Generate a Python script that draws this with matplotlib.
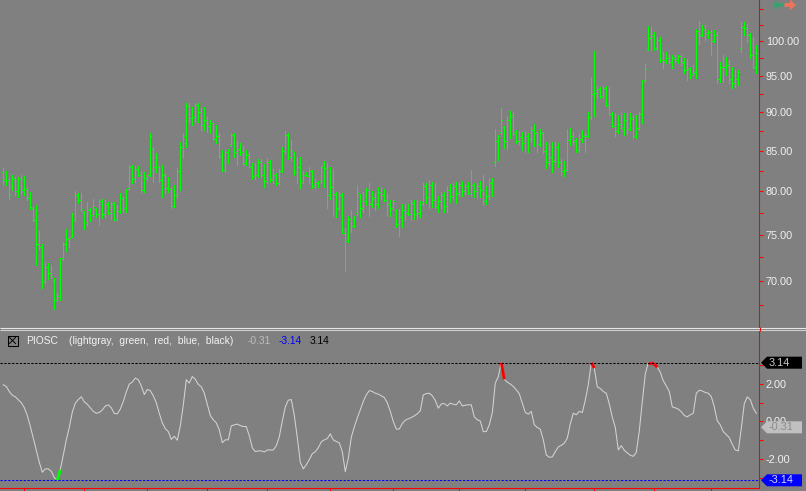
import matplotlib
matplotlib.use("Agg")
import matplotlib.pyplot as plt
from matplotlib.collections import LineCollection
from matplotlib.patches import Polygon, Rectangle
from matplotlib.ticker import FixedLocator, FormatStrFormatter, NullFormatter

plt.rcParams['font.family'] = ['Liberation Sans', 'DejaVu Sans']
plt.rcParams['axes.unicode_minus'] = False

W, H = 806, 491
BG = '#808080'
GREEN = '#00ff00'
FS = 7.8
FS_HEAD = 7.4

# daily OHLC bars
high = [
    82.8, 82.4, 81.6, 82.0, 81.7, 81.7, 82.0, 81.8, 80.5, 79.9,
    78.2, 78.4, 75.4, 74.0, 71.9, 71.9, 71.7, 70.3, 68.8, 72.4,
    74.2, 75.6, 74.7, 77.5, 80.0, 79.8, 79.8, 77.7, 78.7, 78.0,
    79.1, 78.0, 79.1, 79.1, 79.0, 78.7, 78.7, 78.7, 78.4, 79.8,
    79.3, 80.3, 83.2, 83.2, 83.1, 83.1, 82.3, 82.3, 82.0, 87.2,
    85.4, 84.7, 83.1, 83.2, 82.2, 81.7, 80.5, 80.8, 82.8, 86.1,
    87.2, 91.2, 91.2, 90.7, 91.2, 91.2, 90.6, 90.7, 89.3, 89.0,
    88.6, 88.3, 87.2, 85.1, 85.1, 85.2, 87.2, 87.2, 86.2, 86.0,
    85.6, 85.1, 84.8, 83.4, 83.4, 83.9, 83.9, 83.3, 84.1, 83.8,
    82.7, 82.2, 82.7, 85.4, 87.5, 87.2, 86.3, 84.8, 84.2, 84.2,
    82.4, 82.3, 82.9, 82.6, 81.5, 81.2, 83.1, 83.7, 83.4, 82.9,
    82.7, 79.9, 79.9, 79.8, 75.7, 77.1, 77.8, 77.1, 80.8, 79.7,
    79.9, 80.4, 81.0, 80.0, 79.8, 80.5, 80.4, 80.3, 79.8, 79.0,
    79.0, 77.9, 77.9, 78.5, 78.5, 78.5, 79.0, 79.0, 79.0, 78.9,
    81.0, 81.0, 81.4, 81.1, 81.0, 79.4, 79.9, 79.9, 80.6, 80.9,
    81.0, 81.1, 81.1, 81.2, 80.9, 81.1, 82.6, 81.0, 81.0, 81.2,
    82.0, 80.6, 81.6, 81.6, 87.8, 87.0, 90.6, 88.2, 89.5, 90.1,
    90.0, 87.6, 87.5, 87.4, 87.5, 87.2, 88.0, 88.4, 87.4, 87.8,
    87.4, 86.1, 86.0, 86.1, 86.1, 86.0, 83.9, 83.7, 87.8, 87.9,
    87.4, 86.6, 87.1, 87.6, 87.2, 90.0, 94.8, 98.6, 93.4, 93.4,
    93.6, 93.6, 93.4, 90.0, 89.9, 89.6, 89.9, 89.9, 89.9, 89.9,
    89.6, 89.6, 90.0, 94.4, 96.7, 102.3, 102.2, 101.4, 100.6, 100.6,
    98.4, 98.4, 98.0, 98.0, 98.0, 98.0, 98.0, 97.5, 97.4, 96.2,
    96.5, 101.9, 103.1, 102.5, 102.5, 101.7, 101.7, 101.7, 101.4, 97.0,
    98.0, 97.7, 97.3, 96.2, 95.8, 95.8, 102.9, 102.9, 102.6, 101.2,
    100.6, 99.4,
]
low = [
    80.8, 80.8, 79.1, 80.2, 79.6, 79.3, 79.7, 79.6, 79.0, 77.9,
    76.5, 71.7, 73.4, 69.3, 69.8, 70.2, 70.3, 67.1, 67.9, 68.1,
    72.2, 73.2, 73.6, 74.7, 76.5, 78.6, 77.7, 75.6, 76.1, 76.5,
    77.1, 77.0, 76.1, 76.9, 77.0, 77.3, 76.8, 76.7, 76.5, 77.5,
    77.6, 77.6, 80.2, 81.0, 81.1, 81.8, 79.9, 79.9, 81.4, 81.8,
    81.1, 82.3, 81.1, 79.3, 79.8, 79.9, 78.0, 78.2, 79.2, 80.2,
    84.1, 85.4, 88.7, 88.3, 88.7, 88.7, 87.6, 87.6, 87.4, 87.2,
    86.6, 86.0, 84.1, 82.4, 82.3, 83.4, 85.6, 84.2, 83.2, 84.4,
    83.2, 83.2, 82.9, 81.5, 81.5, 81.7, 81.7, 80.5, 81.0, 81.1,
    81.0, 80.8, 80.8, 82.3, 84.7, 83.9, 83.8, 82.0, 81.0, 80.4,
    81.0, 81.8, 81.0, 80.4, 80.4, 80.5, 81.0, 80.5, 78.0, 79.1,
    77.1, 77.0, 77.8, 75.2, 71.1, 74.2, 75.3, 75.9, 77.2, 77.0,
    77.6, 78.4, 77.1, 78.2, 77.8, 78.0, 79.1, 78.9, 77.1, 77.1,
    77.9, 75.9, 74.8, 75.9, 76.7, 77.2, 76.7, 76.8, 76.9, 77.0,
    78.4, 78.6, 78.0, 78.2, 78.0, 77.6, 78.0, 77.6, 77.6, 78.7,
    79.1, 78.6, 79.6, 79.4, 79.7, 79.7, 79.4, 79.3, 79.2, 79.3,
    78.4, 78.5, 79.1, 79.4, 83.1, 83.8, 87.1, 85.3, 85.2, 86.6,
    87.0, 86.0, 85.8, 85.1, 84.8, 84.8, 86.1, 85.6, 84.8, 85.6,
    84.7, 82.8, 83.2, 82.3, 83.6, 82.9, 82.0, 81.8, 82.4, 85.7,
    85.8, 84.8, 84.8, 86.1, 84.8, 86.7, 89.1, 89.5, 91.9, 91.9,
    91.9, 90.8, 89.6, 88.0, 86.9, 87.2, 87.9, 87.0, 87.1, 87.6,
    86.6, 86.6, 87.6, 88.6, 94.1, 98.7, 98.7, 98.7, 98.7, 97.0,
    96.1, 96.8, 96.8, 96.1, 97.0, 96.8, 96.5, 95.4, 94.4, 94.7,
    95.1, 94.7, 99.6, 100.8, 100.2, 100.5, 98.0, 99.9, 94.0, 94.1,
    94.1, 95.1, 94.0, 93.3, 93.4, 93.7, 98.4, 100.9, 99.9, 97.5,
    96.1, 95.4,
]
opn = [
    82.3, 81.5, 81.4, 80.5, 81.5, 80.0, 81.5, 80.2, 80.3, 79.2,
    78.0, 76.7, 74.0, 73.6, 70.0, 71.5, 70.8, 70.1, 68.0, 68.4,
    72.4, 74.0, 74.5, 74.8, 76.7, 79.6, 79.0, 77.5, 76.3, 77.8,
    77.2, 77.9, 77.3, 78.8, 77.3, 78.5, 77.4, 78.5, 76.8, 77.7,
    79.2, 78.0, 80.4, 82.9, 81.5, 82.7, 82.0, 80.2, 81.6, 81.9,
    85.2, 83.0, 82.9, 81.3, 82.0, 80.4, 80.3, 78.3, 79.5, 82.5,
    85.4, 86.0, 90.8, 89.2, 89.4, 91.0, 90.0, 88.3, 89.0, 88.2,
    88.5, 86.5, 86.8, 84.3, 82.6, 84.8, 85.7, 87.0, 84.8, 85.2,
    84.8, 83.4, 84.4, 83.0, 81.8, 82.0, 83.5, 82.0, 81.2, 83.5,
    81.4, 82.0, 81.0, 82.5, 85.0, 87.0, 84.2, 84.6, 82.3, 83.0,
    81.2, 82.0, 81.8, 82.4, 80.6, 81.0, 81.2, 83.3, 82.8, 79.5,
    80.5, 79.7, 78.0, 79.5, 75.2, 74.6, 76.8, 76.0, 77.5, 79.5,
    78.0, 78.8, 80.2, 78.5, 79.2, 78.5, 79.9, 79.5, 79.0, 78.5,
    78.0, 77.8, 76.2, 77.0, 77.8, 77.5, 77.3, 78.6, 77.3, 77.5,
    78.7, 80.6, 79.3, 80.8, 79.0, 78.2, 78.8, 79.5, 78.3, 80.2,
    79.4, 80.6, 79.8, 80.8, 80.0, 80.6, 79.8, 80.8, 80.0, 80.6,
    80.2, 78.8, 79.4, 81.0, 83.5, 86.2, 87.4, 88.0, 86.2, 89.0,
    89.5, 87.3, 86.2, 86.7, 86.0, 86.8, 86.5, 87.6, 87.3, 85.8,
    87.2, 84.9, 83.5, 84.2, 83.7, 85.5, 83.5, 82.4, 82.6, 86.3,
    86.9, 86.2, 85.1, 86.5, 86.9, 86.9, 89.4, 92.5, 92.6, 93.2,
    92.2, 93.3, 91.0, 89.7, 88.2, 87.5, 88.4, 87.5, 88.9, 87.8,
    89.2, 86.9, 87.9, 89.8, 94.4, 98.9, 100.5, 101.0, 99.0, 100.2,
    97.3, 97.2, 97.6, 97.0, 97.6, 97.2, 97.8, 97.0, 95.8, 96.0,
    95.2, 95.5, 101.5, 101.0, 101.8, 101.2, 101.4, 100.0, 101.0, 94.5,
    96.2, 96.2, 96.6, 94.6, 94.0, 94.5, 99.0, 102.2, 102.0, 101.0,
    98.0, 96.3,
]
close = [
    81.4, 81.2, 79.6, 81.6, 80.0, 81.5, 80.1, 80.4, 79.2, 78.2,
    76.7, 74.0, 73.6, 70.0, 71.5, 70.8, 70.5, 68.0, 68.5, 72.0,
    74.0, 74.5, 74.6, 77.3, 79.6, 79.0, 77.9, 76.0, 77.8, 76.8,
    78.2, 77.3, 78.8, 77.3, 78.5, 77.4, 78.5, 76.8, 77.7, 79.6,
    78.0, 80.1, 82.9, 81.5, 82.7, 82.0, 80.2, 81.6, 81.9, 86.8,
    83.0, 84.2, 81.3, 82.0, 80.4, 81.5, 78.3, 79.5, 82.5, 85.5,
    86.8, 90.8, 89.2, 89.4, 91.0, 90.0, 88.3, 89.0, 88.2, 88.8,
    86.5, 86.8, 84.3, 82.6, 84.8, 85.1, 87.0, 84.8, 85.2, 84.6,
    83.4, 84.4, 83.0, 81.8, 82.0, 83.5, 82.0, 81.2, 83.5, 81.5,
    82.0, 81.0, 82.5, 85.0, 87.0, 84.2, 85.0, 82.3, 83.0, 81.0,
    82.0, 81.9, 82.4, 80.6, 81.0, 81.0, 83.0, 82.8, 79.5, 80.5,
    79.7, 78.0, 79.5, 75.5, 74.3, 76.8, 76.0, 77.0, 79.8, 78.0,
    78.8, 80.2, 78.5, 79.2, 78.5, 79.9, 79.5, 79.0, 78.5, 77.8,
    78.8, 76.2, 77.0, 77.8, 77.5, 77.3, 78.6, 77.3, 77.5, 78.5,
    80.6, 79.3, 80.8, 79.0, 78.2, 78.8, 79.5, 78.3, 80.2, 79.4,
    80.6, 79.7, 80.8, 80.0, 80.6, 79.8, 80.8, 80.0, 80.6, 80.2,
    78.8, 79.4, 81.0, 81.4, 86.2, 86.8, 89.0, 86.2, 89.0, 89.5,
    87.3, 86.2, 86.7, 86.0, 86.8, 86.5, 87.6, 87.3, 85.8, 87.2,
    84.9, 83.5, 84.2, 83.7, 85.5, 83.5, 82.4, 82.6, 86.3, 86.9,
    86.2, 85.1, 86.5, 86.9, 86.9, 89.4, 92.5, 92.6, 93.2, 92.2,
    93.3, 91.0, 89.7, 88.2, 87.5, 88.4, 87.9, 88.9, 87.8, 89.2,
    86.9, 87.9, 89.8, 94.2, 96.0, 100.5, 101.0, 99.0, 100.2, 97.3,
    97.2, 97.6, 97.0, 97.6, 97.2, 97.8, 97.0, 95.8, 96.0, 95.0,
    95.5, 101.5, 101.0, 101.8, 101.2, 101.4, 100.0, 101.0, 94.5, 96.2,
    96.2, 96.6, 94.6, 94.0, 94.5, 95.5, 102.2, 102.0, 101.0, 98.0,
    96.3, 98.3,
]

# PIOSC oscillator, one value per bar
piosc = [
    1.96, 1.87, 1.60, 1.40, 1.32, 1.16, 1.00, 0.74, 0.32, -0.25,
    -0.89, -1.54, -2.18, -2.71, -2.53, -2.53, -2.66, -2.99, -3.14, -2.57,
    -1.79, -0.98, -0.32, 0.50, 0.98, 1.17, 1.32, 1.05, 0.92, 0.73,
    0.54, 0.44, 0.48, 0.62, 0.82, 0.89, 0.73, 0.43, 0.41, 0.66,
    1.07, 1.58, 2.00, 2.10, 2.32, 2.23, 1.90, 1.44, 1.71, 1.65,
    1.37, 1.00, 0.44, -0.07, -0.38, -0.54, -0.96, -0.79, -1.00, -0.23,
    0.89, 2.23, 2.05, 2.40, 2.25, 1.98, 1.85, 1.51, 0.92, 0.32,
    0.09, -0.07, -0.45, -1.13, -0.98, -0.98, -0.23, -0.18, -0.14, -0.22,
    -0.27, -0.27, -0.77, -1.40, -1.61, -1.57, -1.57, -1.63, -1.52, -1.52,
    -1.52, -1.29, -0.82, 0.03, 0.78, 1.14, 1.17, 0.33, -0.86, -2.18,
    -2.53, -2.31, -2.04, -1.72, -1.61, -1.40, -1.09, -0.98, -0.91, -0.66,
    -0.98, -1.07, -1.14, -1.61, -2.68, -1.97, -0.84, -0.29, 0.19, 0.62,
    1.07, 1.42, 1.65, 1.60, 1.51, 1.46, 1.37, 1.28, 1.00, 0.54,
    0.00, -0.41, -0.40, -0.11, 0.07, 0.14, 0.21, 0.30, 0.41, 0.58,
    1.42, 1.49, 1.51, 1.37, 1.12, 0.71, 0.94, 0.96, 0.83, 0.98,
    0.92, 0.89, 1.10, 0.83, 0.87, 0.89, 0.89, 0.25, 0.09, 0.03,
    -0.54, -0.54, -0.18, 0.46, 2.05, 2.40, 3.14, 2.25, 2.10, 2.00,
    1.87, 1.69, 1.48, 0.98, 0.48, 0.39, 0.54, -0.18, -0.32, -0.41,
    -0.98, -1.79, -1.91, -1.89, -1.61, -1.36, -1.27, -1.16, -0.89, -0.13,
    0.44, 0.36, 0.54, 0.48, 1.14, 1.96, 3.14, 2.85, 1.85, 1.76,
    1.60, 1.51, 0.94, 0.23, -0.32, -1.52, -1.29, -1.54, -1.68, -1.80,
    -1.86, -1.65, -0.50, 1.07, 2.53, 3.14, 3.14, 3.06, 2.90, 2.63,
    2.17, 1.90, 1.60, 0.78, 0.73, 0.66, 0.52, 0.32, 0.25, 0.36,
    0.44, 1.51, 1.67, 1.63, 1.55, 1.51, 1.33, 0.78, 0.03, -0.18,
    -0.54, -0.70, -0.86, -1.22, -1.52, -1.57, -0.36, 0.96, 1.31, 1.16,
    0.71, 0.44,
]
red_segments = [166, 196, 215, 216, 217]   # bars where the line leaves the upper band
green_segments = [18]                       # bars where the line leaves the lower band

upper_band = 3.14
lower_band = -3.14
last_value = -0.31
month_ticks = [7, 27, 48, 68, 88, 109, 130, 152, 174, 197, 217, 236]
price_ticks = [70, 75, 80, 85, 90, 95, 100]
price_minor = [67.5, 72.5, 77.5, 82.5, 87.5, 92.5, 97.5, 102.5, 105]
osc_ticks = [-2, 0, 2]
osc_minor = [-3, -1, 1, 3]
legend_parts = ['PIOSC', '(lightgray,  green,  red,  blue,  black)']

n = len(high)
xs = list(range(n))

fig = plt.figure(figsize=(W / 100, H / 100), dpi=100, facecolor=BG)
ax1 = fig.add_axes([0, 164 / H, 759 / W, 327 / H], facecolor=BG)
ax2 = fig.add_axes([0, 3 / H, 759 / W, 157 / H], facecolor=BG)

# price bars, one pixel wide like the original
ax1.set_yscale('log')
bars = [[(i, low[i]), (i, high[i])] for i in xs]
otk = [[(i - 0.33, opn[i]), (i, opn[i])] for i in xs]
ctk = [[(i, close[i]), (i + 0.33, close[i])] for i in xs]
for segs in (bars, otk, ctk):
    ax1.add_collection(LineCollection(segs, colors=GREEN, linewidths=0.7,
                                      antialiaseds=False, capstyle='butt'))
ax1.set_xlim(-1.1, 251.9)
ax1.set_ylim(65.37, 106.34)
ax1.yaxis.tick_right()
ax1.yaxis.set_major_locator(FixedLocator(price_ticks))
ax1.yaxis.set_major_formatter(FormatStrFormatter('%.2f'))
ax1.yaxis.set_minor_locator(FixedLocator(price_minor))
ax1.yaxis.set_minor_formatter(NullFormatter())
ax1.tick_params(axis='y', which='both', direction='out', length=3, width=0.75,
                color='red', labelcolor='#f0f0f0', labelsize=FS, pad=2)
ax1.tick_params(axis='x', which='both', bottom=False, labelbottom=False)
for s in ('left', 'top', 'bottom'):
    ax1.spines[s].set_visible(False)
ax1.spines['right'].set_color('red')
ax1.spines['right'].set_linewidth(0.75)

# oscillator
ax2.plot(xs, piosc, color='#d3d3d3', lw=0.75)
for i in red_segments:
    ax2.plot([i, i + 1], [piosc[i], piosc[i + 1]], color='red', lw=2.0, solid_capstyle='butt')
for i in green_segments:
    ax2.plot([i, i + 1], [piosc[i], piosc[i + 1]], color=GREEN, lw=2.0, solid_capstyle='butt')
ax2.axhline(upper_band, color='black', lw=0.75, ls=(0, (2.2, 1.5)))
ax2.axhline(lower_band, color='#0000ff', lw=0.75, ls=(0, (2.2, 1.5)))
ax2.set_xlim(-1.1, 251.9)
ax2.set_ylim(-3.551, 4.832)
ax2.yaxis.tick_right()
ax2.yaxis.set_major_locator(FixedLocator(osc_ticks))
ax2.yaxis.set_major_formatter(FormatStrFormatter('%.2f'))
ax2.yaxis.set_minor_locator(FixedLocator(osc_minor))
ax2.tick_params(axis='y', which='both', direction='out', length=3, width=0.75,
                color='red', labelcolor='#f0f0f0', labelsize=FS, pad=2)
ax2.set_xticks(month_ticks)
ax2.tick_params(axis='x', direction='out', length=2.5, width=0.75, color='red',
                labelbottom=False)
for s in ('left', 'top'):
    ax2.spines[s].set_visible(False)
for s in ('right', 'bottom'):
    ax2.spines[s].set_color('red')
    ax2.spines[s].set_linewidth(0.75)

# overlay in pixel coordinates for the chrome around the panels
ov = fig.add_axes([0, 0, 1, 1])
ov.set_xlim(0, W)
ov.set_ylim(H, 0)
ov.axis('off')
ov.patch.set_alpha(0)


def img_y(ax, v):
    return H - ax.transData.transform((0, v))[1]


ov.hlines(327.5, 0, W, color='#e6e6e6', lw=0.8)
ov.hlines(330.0, 0, W, color='#cfcfcf', lw=0.8)
ov.vlines(759.5, 327, 331, color='red', lw=0.75)

# header of the indicator pane
ov.add_patch(Rectangle((7.5, 335.5), 10, 10, fill=False, ec='black', lw=0.75))
ov.plot([9.5, 15.5], [337.5, 343.5], color='black', lw=0.7)
ov.plot([15.5, 9.5], [337.5, 343.5], color='black', lw=0.7)
ov.text(26, 341, legend_parts[0], color='#f2f2f2', fontsize=FS_HEAD, va='center')
ov.text(69, 341, legend_parts[1], color='#f2f2f2', fontsize=FS_HEAD, va='center')
ov.text(248, 341, '%.2f' % last_value, color='#bdbdbd', fontsize=FS_HEAD, va='center')
ov.text(279, 341, '%.2f' % lower_band, color='#0000ff', fontsize=FS_HEAD, va='center')
ov.text(310, 341, '%.2f' % upper_band, color='black', fontsize=FS_HEAD, va='center')

# value flags on the right scale
for v, fc, tc in [(upper_band, 'black', '#cccccc'),
                  (last_value, '#c0c0c0', '#8c8c8c'),
                  (lower_band, '#0000ff', '#d6d6ff')]:
    yy = img_y(ax2, v)
    ov.add_patch(Polygon([(761, yy), (767, yy - 6), (802, yy - 6), (802, yy + 6), (767, yy + 6)],
                         closed=True, fc=fc, ec='none'))
    ov.text(769, yy, '%.2f' % v, color=tc, fontsize=FS, va='center', ha='left')

# scroll arrows at the top right
ov.add_patch(Polygon([(772, 5), (778, -0.5), (778, 3), (784, 3), (784, 7), (778, 7), (778, 10.5)],
                     closed=True, fc='#3f9f73', ec='none'))
ov.add_patch(Polygon([(796, 5), (790, -0.5), (790, 3), (784.5, 3), (784.5, 7), (790, 7), (790, 10.5)],
                     closed=True, fc='#e7765c', ec='none'))

fig.savefig('out.png', dpi=100, facecolor=BG)
